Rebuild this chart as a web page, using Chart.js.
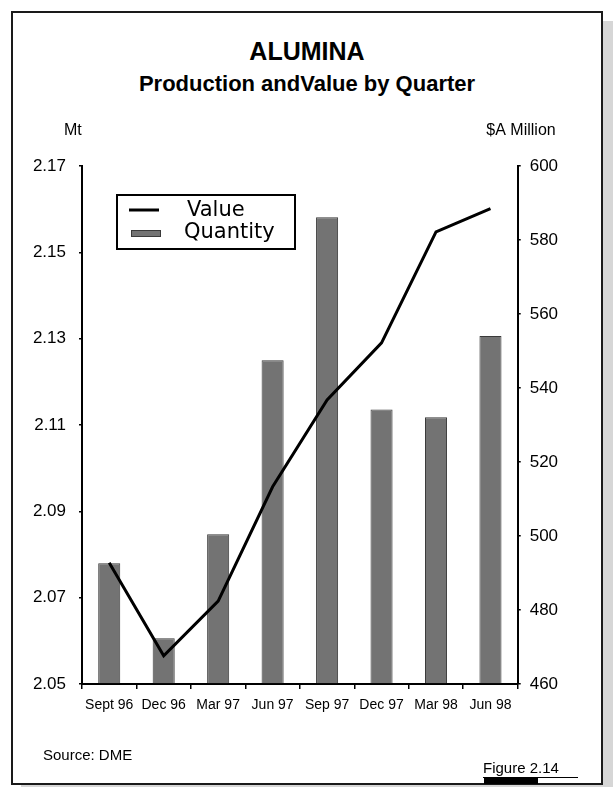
<!DOCTYPE html>
<html>
<head>
<meta charset="utf-8">
<title>Alumina</title>
<script src="https://cdn.jsdelivr.net/npm/chart.js@4.4.0/dist/chart.umd.min.js"></script>
<style>
  html, body { margin: 0; padding: 0; background: #fff; }
  body { width: 613px; height: 787px; position: relative; overflow: hidden; font-family: "Liberation Sans", Arial, sans-serif; color: #000; }
  .moldura { position: absolute; left: 11px; top: 11px; width: 588px; height: 770px; border: 2px solid #1a1a1a; box-shadow: 10px 10px 0 #d6d6d6; background: #fff; }
  #grafico { position: absolute; left: 0; top: 0; }
  .titulo { position: absolute; left: 0; width: 614px; text-align: center; font-weight: bold; white-space: nowrap; }
  .t1 { top: 38px; font-size: 25px; line-height: 26px; }
  .t2 { top: 73px; font-size: 22px; line-height: 22px; }
  .rodape { position: absolute; font-size: 15px; line-height: 16px; white-space: nowrap; }
  .fonte { left: 43px; top: 747px; }
  .figura { left: 483px; top: 760px; }
  .sublinha { position: absolute; left: 483px; top: 777px; width: 95px; height: 1px; background: #000; }
  .barra-preta { position: absolute; left: 484px; top: 777px; width: 54px; height: 7px; background: #000; }
</style>
</head>
<body>
<div class="moldura"></div>
<div class="titulo t1">ALUMINA</div>
<div class="titulo t2">Production andValue by Quarter</div>
<canvas id="grafico" width="613" height="787"></canvas>
<div class="rodape fonte">Source: DME</div>
<div class="rodape figura">Figure 2.14</div>
<div class="sublinha"></div>
<div class="barra-preta"></div>
<script>
// Trimestres e séries
const trimestres = ["Sept 96", "Dec 96", "Mar 97", "Jun 97", "Sep 97", "Dec 97", "Mar 98", "Jun 98"];
const quantidade = [2.078, 2.0606, 2.0847, 2.125, 2.1581, 2.1136, 2.1118, 2.1306]; // Mt
const valor = [492.8, 467.6, 482.4, 513.3, 536.8, 552.2, 582.2, 588.5]; // $A Million

// Marcas dos eixos
const ticksMt = [2.05, 2.07, 2.09, 2.11, 2.13, 2.15, 2.17];
const ticksValor = [460, 480, 500, 520, 540, 560, 580, 600];

const FONTE = '"Liberation Sans", Arial, sans-serif';

Chart.defaults.font.family = FONTE;
Chart.defaults.color = "#000";

// Legenda em caixa dentro da área do gráfico
const legendaCaixa = {
  id: "legendaCaixa",
  afterDatasetsDraw(chart) {
    const { ctx, chartArea } = chart;
    const [linha, barras] = chart.data.datasets;
    const x = chartArea.left + 35, y = chartArea.top + 29;
    ctx.save();
    ctx.fillStyle = "#fff";
    ctx.fillRect(x, y, 178, 54);
    ctx.strokeStyle = "#000";
    ctx.lineWidth = 2;
    ctx.strokeRect(x, y, 178, 54);

    ctx.beginPath();
    ctx.moveTo(x + 12, y + 15);
    ctx.lineTo(x + 42, y + 15);
    ctx.strokeStyle = linha.borderColor;
    ctx.lineWidth = 3;
    ctx.stroke();

    ctx.fillStyle = barras.backgroundColor;
    ctx.fillRect(x + 14, y + 35, 30, 7);
    ctx.strokeStyle = barras.borderColor;
    ctx.lineWidth = 1;
    ctx.strokeRect(x + 14.5, y + 35.5, 29, 6);

    ctx.fillStyle = "#000";
    ctx.font = '21px "DejaVu Sans", sans-serif';
    ctx.textBaseline = "middle";
    ctx.fillText(linha.label, x + 70, y + 16);
    ctx.fillText(barras.label, x + 67, y + 38);
    ctx.restore();
  }
};

// Unidades por cima dos eixos
const unidades = {
  id: "unidades",
  afterDraw(chart) {
    const { ctx, chartArea } = chart;
    ctx.save();
    ctx.fillStyle = "#000";
    ctx.font = "16px " + FONTE;
    ctx.textBaseline = "middle";
    ctx.textAlign = "left";
    ctx.fillText("Mt", chartArea.left - 18, chartArea.top - 35);
    ctx.textAlign = "right";
    ctx.fillText("$A Million", chartArea.right + 38, chartArea.top - 35);
    ctx.restore();
  }
};

new Chart(document.getElementById("grafico"), {
  data: {
    labels: trimestres,
    datasets: [
      {
        type: "line",
        label: "Value",
        data: valor,
        yAxisID: "y1",
        borderColor: "#000",
        borderWidth: 3,
        pointRadius: 0,
        tension: 0,
        fill: false,
        order: 0
      },
      {
        type: "bar",
        label: "Quantity",
        data: quantidade,
        yAxisID: "y",
        backgroundColor: "#737373",
        borderColor: "#3a3a3a",
        borderWidth: 1,
        barPercentage: 0.405,
        categoryPercentage: 1,
        base: 2.05,
        order: 1
      }
    ]
  },
  options: {
    responsive: false,
    animation: false,
    layout: { padding: { top: 166, left: 0, right: 0, bottom: 0 } },
    plugins: {
      legend: { display: false },
      tooltip: { enabled: false }
    },
    scales: {
      x: {
        type: "category",
        offset: true,
        grid: { display: true, drawOnChartArea: false, drawTicks: true, tickLength: 5, color: "#000", lineWidth: 1.5, offset: true },
        border: { display: true, color: "#000", width: 2 },
        ticks: { font: { size: 14 }, padding: 8, maxRotation: 0, autoSkip: false },
        afterFit: s => { s.height = 103; }
      },
      y: {
        position: "left",
        min: ticksMt[0],
        max: ticksMt[ticksMt.length - 1],
        afterBuildTicks: s => { s.ticks = ticksMt.map(v => ({ value: v })); },
        grid: { display: true, drawOnChartArea: false, tickLength: 3, color: "#000", lineWidth: 1.5 },
        border: { display: true, color: "#000", width: 2 },
        ticks: { font: { size: 17 }, padding: 13, callback: v => v.toFixed(2) },
        afterFit: s => { s.width = 82; }
      },
      y1: {
        position: "right",
        min: ticksValor[0],
        max: ticksValor[ticksValor.length - 1],
        afterBuildTicks: s => { s.ticks = ticksValor.map(v => ({ value: v })); },
        grid: { display: true, drawOnChartArea: false, tickLength: 3, color: "#000", lineWidth: 1.5 },
        border: { display: true, color: "#000", width: 2 },
        ticks: { font: { size: 17 }, padding: 9 },
        afterFit: s => { s.width = 95.3; }
      }
    }
  },
  plugins: [legendaCaixa, unidades]
});
</script>
</body>
</html>
